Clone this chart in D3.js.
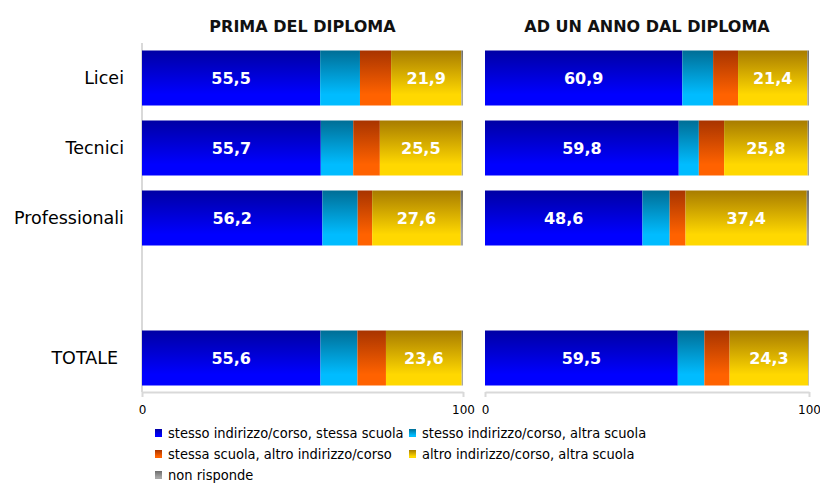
<!DOCTYPE html>
<meta charset="utf-8">
<html>
  <head>
    <script src="https://d3js.org/d3.v7.min.js"></script>
    <style>
      body { margin: 0; background: #fff; }
      text { font-family: "DejaVu Sans", sans-serif; }
    </style>
  </head>
  <body>
    <svg id="viz" width="820" height="484"></svg>
    <script>
    // categories (the empty one is the gap before TOTALE)
    const categories = ["Licei", "Tecnici", "Professionali", "", "TOTALE"];
    const seriesNames = [
      "stesso indirizzo/corso, stessa scuola",
      "stesso indirizzo/corso, altra scuola",
      "stessa scuola, altro indirizzo/corso",
      "altro indirizzo/corso, altra scuola",
      "non risponde"
    ];
    const panelTitles = ["PRIMA DEL DIPLOMA", "AD UN ANNO DAL DIPLOMA"];
    const tickLabels = [0, 100];

    // values per category: Licei, Tecnici, Professionali, TOTALE
    const rowNames = ["Licei", "Tecnici", "Professionali", "TOTALE"];
    const primaStessaStessa = [55.5, 55.7, 56.2, 55.6];
    const primaStessoAltra  = [12.4, 10.1, 11.0, 11.5];
    const primaScuolaAltro  = [9.7, 8.3, 4.5, 8.9];
    const primaAltroAltra   = [21.9, 25.5, 27.6, 23.6];
    const primaNonRisponde  = [0.5, 0.4, 0.7, 0.4];

    const dopoStessaStessa = [60.9, 59.8, 48.6, 59.5];
    const dopoStessoAltra  = [9.5, 6.2, 8.4, 8.2];
    const dopoScuolaAltro  = [7.7, 7.8, 4.9, 7.8];
    const dopoAltroAltra   = [21.4, 25.8, 37.4, 24.3];
    const dopoNonRisponde  = [0.5, 0.4, 0.7, 0.2];

    // gradient colours: [top, bottom]
    const gradColors = [
      ["#0000a4", "#0000ff"],
      ["#006e96", "#00bcff"],
      ["#a83400", "#ff6200"],
      ["#a87c00", "#ffd800"],
      ["#6e6e6e", "#a6a6a6"]
    ];

    function buildRows(cols) {
      return rowNames.map(function(name, i) {
        const row = { cat: name };
        seriesNames.forEach(function(s, j) { row[s] = cols[j][i]; });
        return row;
      });
    }
    const panels = [
      buildRows([primaStessaStessa, primaStessoAltra, primaScuolaAltro, primaAltroAltra, primaNonRisponde]),
      buildRows([dopoStessaStessa, dopoStessoAltra, dopoScuolaAltro, dopoAltroAltra, dopoNonRisponde])
    ];

    const svg = d3.select("#viz");

    // gradients
    const defs = svg.append("defs");
    gradColors.forEach(function(c, i) {
      const g = defs.append("linearGradient")
        .attr("id", "grad" + i)
        .attr("x1", 0).attr("y1", 0).attr("x2", 0).attr("y2", 1);
      g.append("stop").attr("offset", "0%").attr("stop-color", c[0]);
      g.append("stop").attr("offset", "80%").attr("stop-color", c[1]);
      g.append("stop").attr("offset", "100%").attr("stop-color", c[1]);
    });

    const y = d3.scaleBand()
      .domain(categories)
      .range([43, 393])
      .paddingInner(15 / 70)
      .paddingOuter(7.5 / 70);

    const panelRanges = [[142, 463], [485, 809]];
    const axisY = 392;

    const stack = d3.stack().keys(seriesNames);

    panels.forEach(function(data, p) {
      const x = d3.scaleLinear().domain([0, 100]).range(panelRanges[p]);
      const g = svg.append("g");

      // title
      g.append("text")
        .attr("x", (panelRanges[p][0] + panelRanges[p][1]) / 2)
        .attr("y", 32)
        .attr("text-anchor", "middle")
        .style("font-weight", "bold")
        .style("font-size", "16px")
        .style("fill", "#111")
        .text(panelTitles[p]);

      // axis
      const xAxis = d3.axisBottom(x).tickValues(tickLabels).tickSize(5).tickSizeOuter(0);
      const ax = g.append("g")
        .attr("transform", "translate(0," + axisY + ")")
        .call(xAxis);
      ax.select(".domain").attr("stroke", "#d9d9d9").attr("stroke-width", 2);
      ax.selectAll(".tick line").attr("stroke", "#d9d9d9").attr("stroke-width", 2);
      ax.selectAll(".tick text")
        .attr("y", 13)
        .style("font-family", "DejaVu Sans, sans-serif")
        .style("font-size", "12px")
        .style("fill", "#000");

      if (p === 0) {
        g.append("line")
          .attr("x1", x(0)).attr("x2", x(0))
          .attr("y1", 43).attr("y2", axisY)
          .attr("stroke", "#d9d9d9").attr("stroke-width", 2);
      }

      const series = stack(data);
      g.selectAll("g.series")
        .data(series)
        .join("g")
        .attr("class", "series")
        .attr("fill", function(d, i) { return "url(#grad" + i + ")"; })
        .selectAll("rect")
        .data(function(d) { return d; })
        .join("rect")
        .attr("x", function(d) { return x(d[0]); })
        .attr("width", function(d) { return x(d[1]) - x(d[0]); })
        .attr("y", function(d) { return y(d.data.cat); })
        .attr("height", y.bandwidth());

      // value labels on first and fourth series
      [0, 3].forEach(function(si) {
        g.selectAll("text.val" + si)
          .data(series[si])
          .join("text")
          .attr("class", "val" + si)
          .attr("x", function(d) { return (x(d[0]) + x(d[1])) / 2; })
          .attr("y", function(d) { return y(d.data.cat) + y.bandwidth() / 2; })
          .attr("dy", "0.36em")
          .attr("text-anchor", "middle")
          .style("fill", "#fff")
          .style("font-weight", "bold")
          .style("font-size", "16px")
          .text(function(d) { return d3.format(".1f")(d[1] - d[0]).replace(".", ","); });
      });
    });

    // category labels
    svg.append("g").selectAll("text")
      .data(categories.filter(function(c) { return c !== ""; }))
      .join("text")
      .attr("x", function(d) { return d === "TOTALE" ? 118 : 124; })
      .attr("y", function(d) { return y(d) + y.bandwidth() / 2; })
      .attr("dy", "0.36em")
      .attr("text-anchor", "end")
      .style("font-size", "17.5px")
      .style("fill", "#000")
      .text(function(d) { return d; });

    // legend
    const legend = svg.append("g");
    const legendPos = [[155, 433], [409, 433], [155, 454], [409, 454], [155, 475]];
    const items = legend.selectAll("g")
      .data(seriesNames)
      .join("g")
      .attr("transform", function(d, i) { return "translate(" + legendPos[i][0] + "," + legendPos[i][1] + ")"; });
    items.append("rect")
      .attr("x", 0).attr("y", -4)
      .attr("width", 7).attr("height", 8)
      .attr("fill", function(d, i) { return "url(#grad" + i + ")"; });
    items.append("text")
      .attr("x", 13)
      .attr("dy", "0.36em")
      .style("font-family", "DejaVu Sans Condensed, DejaVu Sans, sans-serif")
      .style("font-size", "14.5px")
      .style("fill", "#000")
      .text(function(d) { return d; });
    </script>
  </body>
</html>
